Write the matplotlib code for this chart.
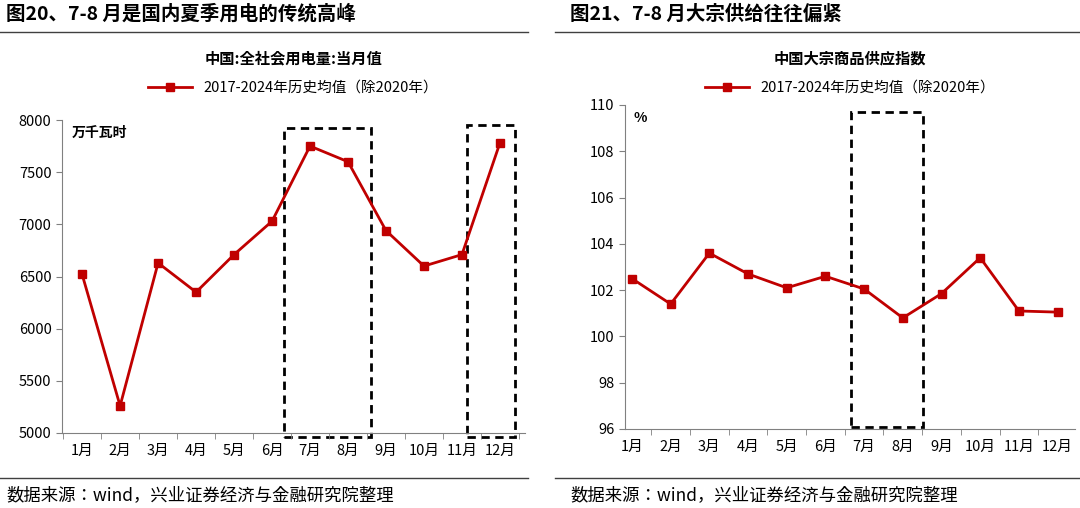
import matplotlib
matplotlib.use("Agg")
import glob, os
import matplotlib.pyplot as plt
from matplotlib.patches import Rectangle
from matplotlib.lines import Line2D
from matplotlib import font_manager

for pat in ['/usr/share/fonts/**/*CJK*', '/usr/local/share/fonts/**/*CJK*', os.path.expanduser('~/.fonts/**/*CJK*')]:
    for f in sorted(glob.glob(pat, recursive=True)):
        if os.path.isfile(f) and 'Sans' in os.path.basename(f):
            try:
                font_manager.fontManager.addfont(f)
            except Exception:
                pass
names = sorted(set(f.name for f in font_manager.fontManager.ttflist if 'Sans CJK' in f.name))
pref = [n for n in names if 'SC' in n] or names
plt.rcParams['font.family'] = (pref[:1] or ['Noto Sans CJK SC']) + ['DejaVu Sans']

months = ['1月','2月','3月','4月','5月','6月','7月','8月','9月','10月','11月','12月']
power = [6520, 5260, 6630, 6350, 6710, 7030, 7750, 7600, 6940, 6600, 6710, 7780]
supply = [102.5, 101.4, 103.6, 102.7, 102.1, 102.6, 102.05, 100.8, 101.85, 103.4, 101.1, 101.05]
legend_label = '2017-2024年历史均值（除2020年）'
red = '#C00000'

W, H = 1080, 508
fig = plt.figure(figsize=(W/100, H/100), dpi=100)

def px(x0, y0, x1, y1):
    return [x0/W, 1-y1/H, (x1-x0)/W, (y1-y0)/H]

def panel(rect, vals, ylim, yticks, xlim, unit, title, heading, hx, boxes, lx0, lx1):
    ax = fig.add_axes(px(*rect))
    x = list(range(len(months)))
    ax.plot(x, vals, color=red, lw=2, marker='s', ms=6)
    ax.set_yticks(yticks)
    ax.set_xticks(x); ax.set_xticklabels(months, fontsize=10.5)
    ax.set_xticks([i+0.5 for i in range(-1, 12)], minor=True)
    ax.set_xlim(*xlim); ax.set_ylim(*ylim)
    ax.tick_params(axis='x', which='major', length=0, pad=8)
    ax.tick_params(axis='x', which='minor', length=4, direction='out', color='#808080')
    ax.tick_params(axis='y', labelsize=10.5, length=4, color='#808080')
    for s in ['top', 'right']:
        ax.spines[s].set_visible(False)
    for s in ['left', 'bottom']:
        ax.spines[s].set_color('#808080')
    ax.text(0.02, 0.98, unit, transform=ax.transAxes, fontsize=10, fontweight='bold', va='top')
    for (b0, b1, y0, y1) in boxes:
        ax.add_patch(Rectangle((b0, y0), b1-b0, y1-y0, fill=False, ls=(0, (3, 2)), lw=2, color='black', clip_on=False))
    cx = (rect[0]+rect[2])/2/W
    fig.text(cx, 1-58/H, title, ha='center', va='center', fontsize=11, fontweight='bold')
    h = Line2D([0], [0], color=red, lw=2, marker='s', ms=6)
    fig.legend([h], [legend_label], loc='center', bbox_to_anchor=(cx, 1-88/H), frameon=False, fontsize=10.5, handlelength=3)
    fig.text(hx/W, 1-14/H, heading, fontsize=14, fontweight='bold', va='center')
    fig.add_artist(Line2D([lx0/W, lx1/W], [1-32/H, 1-32/H], color='#404040', lw=1))
    fig.add_artist(Line2D([lx0/W, lx1/W], [1-478/H, 1-478/H], color='#404040', lw=1))
    fig.text(hx/W, 1-495/H, '数据来源：wind，兴业证券经济与金融研究院整理', fontsize=12.5, va='center')

panel((62, 120, 525, 433), power, (5000, 8000), range(5000, 8001, 500), (-0.53, 11.66),
      '万千瓦时', '中国:全社会用电量:当月值', '图20、7-8 月是国内夏季用电的传统高峰', 6,
      [(5.32, 7.6, 4966, 7923), (10.13, 11.39, 4966, 7950)], 0, 528)
panel((625, 105, 1075, 429), supply, (96, 110), range(96, 111, 2), (-0.18, 11.45),
      '%', '中国大宗商品供应指数', '图21、7-8 月大宗供给往往偏紧', 570,
      [(5.66, 7.52, 96.1, 109.7)], 555, 1080)

fig.savefig('out.png', dpi=100)
